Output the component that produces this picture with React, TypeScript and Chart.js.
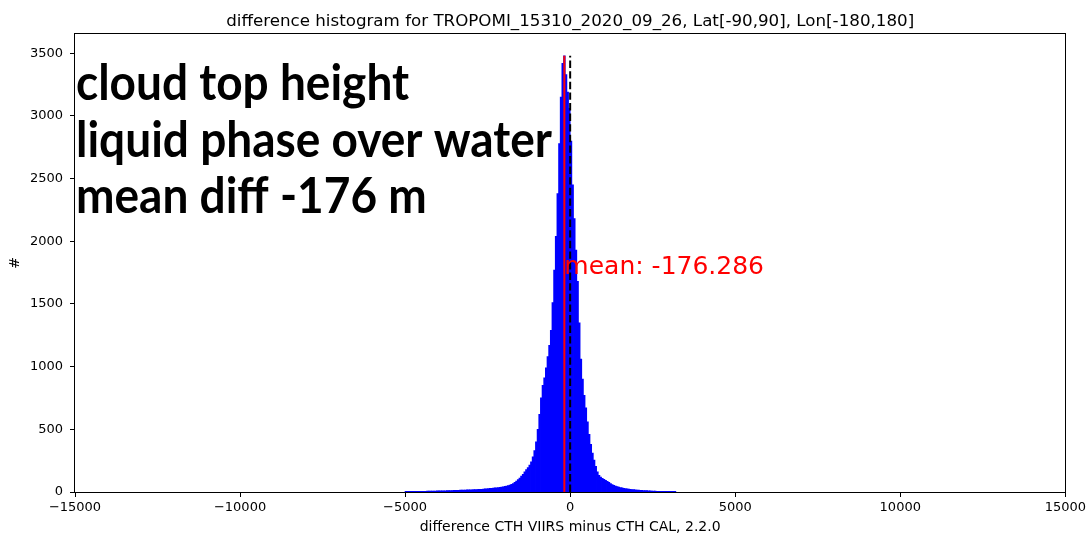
import React, { useEffect, useRef } from "react";
import { Chart, registerables } from "chart.js";

Chart.register(...registerables);

const titleText =
  "difference histogram for TROPOMI_15310_2020_09_26, Lat[-90,90], Lon[-180,180]";
const xAxisLabel = "difference CTH VIIRS minus CTH CAL, 2.2.0";
const yAxisLabel = "#";
const noteLines = ["cloud top height", "liquid phase over water", "mean diff -176 m"];
const meanDiff = -176.286;

// histogram: 50 m bins starting at -5000 m
const firstBinEdge = -5000;
const binWidth = 50;
const binCounts = [
  // -5000 .. -2000
  2, 3, 3, 3, 3, 4, 4, 4, 4, 5, 5, 5, 5, 6, 6, 6, 6, 7, 7, 8,
  8, 8, 9, 9, 9, 10, 10, 11, 11, 12, 12, 13, 13, 14, 14, 15, 15, 16, 16, 17,
  17, 18, 18, 19, 20, 21, 21, 22, 24, 25, 27, 28, 29, 31, 32, 33, 35, 37, 39, 41,
  // -2000 .. -1200
  44, 47, 51, 55, 60, 67, 76, 86, 98, 110, 126, 140, 160, 178, 195, 215,
  // -1200 .. 1000
  240, 280, 330, 400, 500, 620, 750, 850, 910, 990, 1080, 1170, 1290, 1510, 1770, 2040,
  2380, 2780, 3150, 3420, 3480, 3330, 3190, 3060, 2800, 2450, 2180, 1930, 1680, 1350, 1060, 900,
  770, 670, 560, 460, 380, 310, 255, 205, 160, 132, 118, 108,
  // 1000 .. 2000
  100, 92, 84, 77, 66, 58, 52, 47, 42, 38, 35, 32, 29, 27, 25, 23, 21, 19, 18, 16,
  // 2000 .. 3200
  15, 14, 13, 12, 11, 10, 10, 9, 8, 7, 7, 6, 5, 5, 4, 4, 3, 3, 3, 2, 2, 2, 1, 1,
];

const xTickValues = [-15000, -10000, -5000, 0, 5000, 10000, 15000];
const yTickValues = [0, 500, 1000, 1500, 2000, 2500, 3000, 3500];
const xMin = -15000;
const xMax = 15000;
const yMax = 3654;

const W = 1089;
const H = 536;

const fmtTick = (v: number) => (v < 0 ? "\u2212" + Math.abs(v) : String(v));

const overlayPlugin = {
  id: "overlay",
  afterDatasetsDraw(chart: any) {
    const { ctx, chartArea, scales } = chart;
    const peak = Math.max(...binCounts);
    // mean label
    ctx.save();
    ctx.fillStyle = "#ff0000";
    ctx.font = "25px 'DejaVu Sans'";
    ctx.textAlign = "left";
    ctx.textBaseline = "alphabetic";
    ctx.fillText(
      "mean: " + meanDiff.toFixed(3),
      scales.x.getPixelForValue(meanDiff),
      scales.y.getPixelForValue(peak / 2)
    );
    ctx.restore();
    // axes frame
    ctx.save();
    ctx.strokeStyle = "#000";
    ctx.lineWidth = 1;
    const l = Math.round(chartArea.left) - 0.5;
    const t = Math.round(chartArea.top) - 0.5;
    const r = Math.round(chartArea.right) + 0.5;
    const b = Math.round(chartArea.bottom) + 0.5;
    ctx.strokeRect(l, t, r - l, b - t);
    ctx.restore();
  },
  afterDraw(chart: any) {
    const { ctx, chartArea } = chart;
    const cx = (chartArea.left + chartArea.right) / 2;
    ctx.save();
    ctx.fillStyle = "#000";
    ctx.textAlign = "center";
    ctx.textBaseline = "alphabetic";
    ctx.font = "16.7px 'DejaVu Sans'";
    ctx.fillText(titleText, cx, 26);
    ctx.font = "14px 'DejaVu Sans'";
    ctx.fillText(xAxisLabel, cx, 531);
    ctx.save();
    ctx.translate(19, (chartArea.top + chartArea.bottom) / 2);
    ctx.rotate(-Math.PI / 2);
    ctx.fillText(yAxisLabel, 0, 0);
    ctx.restore();
    // annotation block, slightly condensed
    ctx.textAlign = "left";
    ctx.font = "bold 50px Lato";
    const baselines = [100, 157, 213];
    noteLines.forEach((line, i) => {
      ctx.save();
      ctx.translate(76, baselines[i]);
      ctx.scale(0.92, 1);
      ctx.fillText(line, 0, 0);
      ctx.restore();
    });
    ctx.restore();
  },
};

export default function App() {
  const canvasRef = useRef<HTMLCanvasElement | null>(null);

  useEffect(() => {
    const canvas = canvasRef.current;
    if (!canvas) return;
    const peak = Math.max(...binCounts);
    const histBars = binCounts.map((c, i) => ({
      x: firstBinEdge + (i + 0.5) * binWidth,
      y: c,
    }));

    const chart = new Chart(canvas, {
      type: "bar",
      data: {
        datasets: [
          {
            type: "bar",
            data: histBars,
            backgroundColor: "#0000ff",
            borderWidth: 0,
            barPercentage: 1,
            categoryPercentage: 1,
            inflateAmount: 0.4,
            order: 3,
          } as any,
          {
            type: "line",
            data: [
              { x: meanDiff, y: 0 },
              { x: meanDiff, y: peak },
            ],
            borderColor: "#ff0000",
            borderWidth: 2,
            pointRadius: 0,
            fill: false,
            order: 2,
          },
          {
            type: "line",
            data: [
              { x: 0, y: 0 },
              { x: 0, y: peak },
            ],
            borderColor: "#000000",
            borderWidth: 2,
            borderDash: [7.4, 3.2],
            pointRadius: 0,
            fill: false,
            order: 1,
          },
        ],
      },
      options: {
        animation: false,
        responsive: false,
        maintainAspectRatio: false,
        layout: { padding: { left: 0, top: 34, right: 23, bottom: 0 } },
        plugins: {
          legend: { display: false },
          tooltip: { enabled: false },
          title: { display: false },
        },
        scales: {
          x: {
            type: "linear",
            min: xMin,
            max: xMax,
            offset: false,
            afterBuildTicks: (scale: any) => {
              scale.ticks = xTickValues.map((v) => ({ value: v }));
            },
            afterFit: (scale: any) => {
              scale.height = 44;
            },
            border: { display: false },
            grid: {
              display: true,
              offset: false,
              drawOnChartArea: false,
              drawTicks: true,
              tickLength: 5,
              color: "#000",
              lineWidth: 1,
            },
            ticks: {
              autoSkip: false,
              maxRotation: 0,
              padding: 3,
              color: "#000",
              font: { family: "'DejaVu Sans'", size: 13 },
              callback: (v: any) => fmtTick(Number(v)),
            },
          },
          y: {
            type: "linear",
            min: 0,
            max: yMax,
            afterBuildTicks: (scale: any) => {
              scale.ticks = yTickValues.map((v) => ({ value: v }));
            },
            afterFit: (scale: any) => {
              scale.width = 75;
            },
            border: { display: false },
            grid: {
              display: true,
              drawOnChartArea: false,
              drawTicks: true,
              tickLength: 5,
              color: "#000",
              lineWidth: 1,
            },
            ticks: {
              autoSkip: false,
              padding: 7,
              color: "#000",
              font: { family: "'DejaVu Sans'", size: 13 },
              callback: (v: any) => fmtTick(Number(v)),
            },
          },
        },
      },
      plugins: [overlayPlugin],
    });
    return () => chart.destroy();
  }, []);

  return (
    <div
      style={{
        position: "fixed",
        left: 0,
        top: 0,
        width: W,
        height: H,
        background: "#fff",
      }}
    >
      <canvas ref={canvasRef} width={W} height={H} style={{ width: W, height: H }} />
    </div>
  );
}
